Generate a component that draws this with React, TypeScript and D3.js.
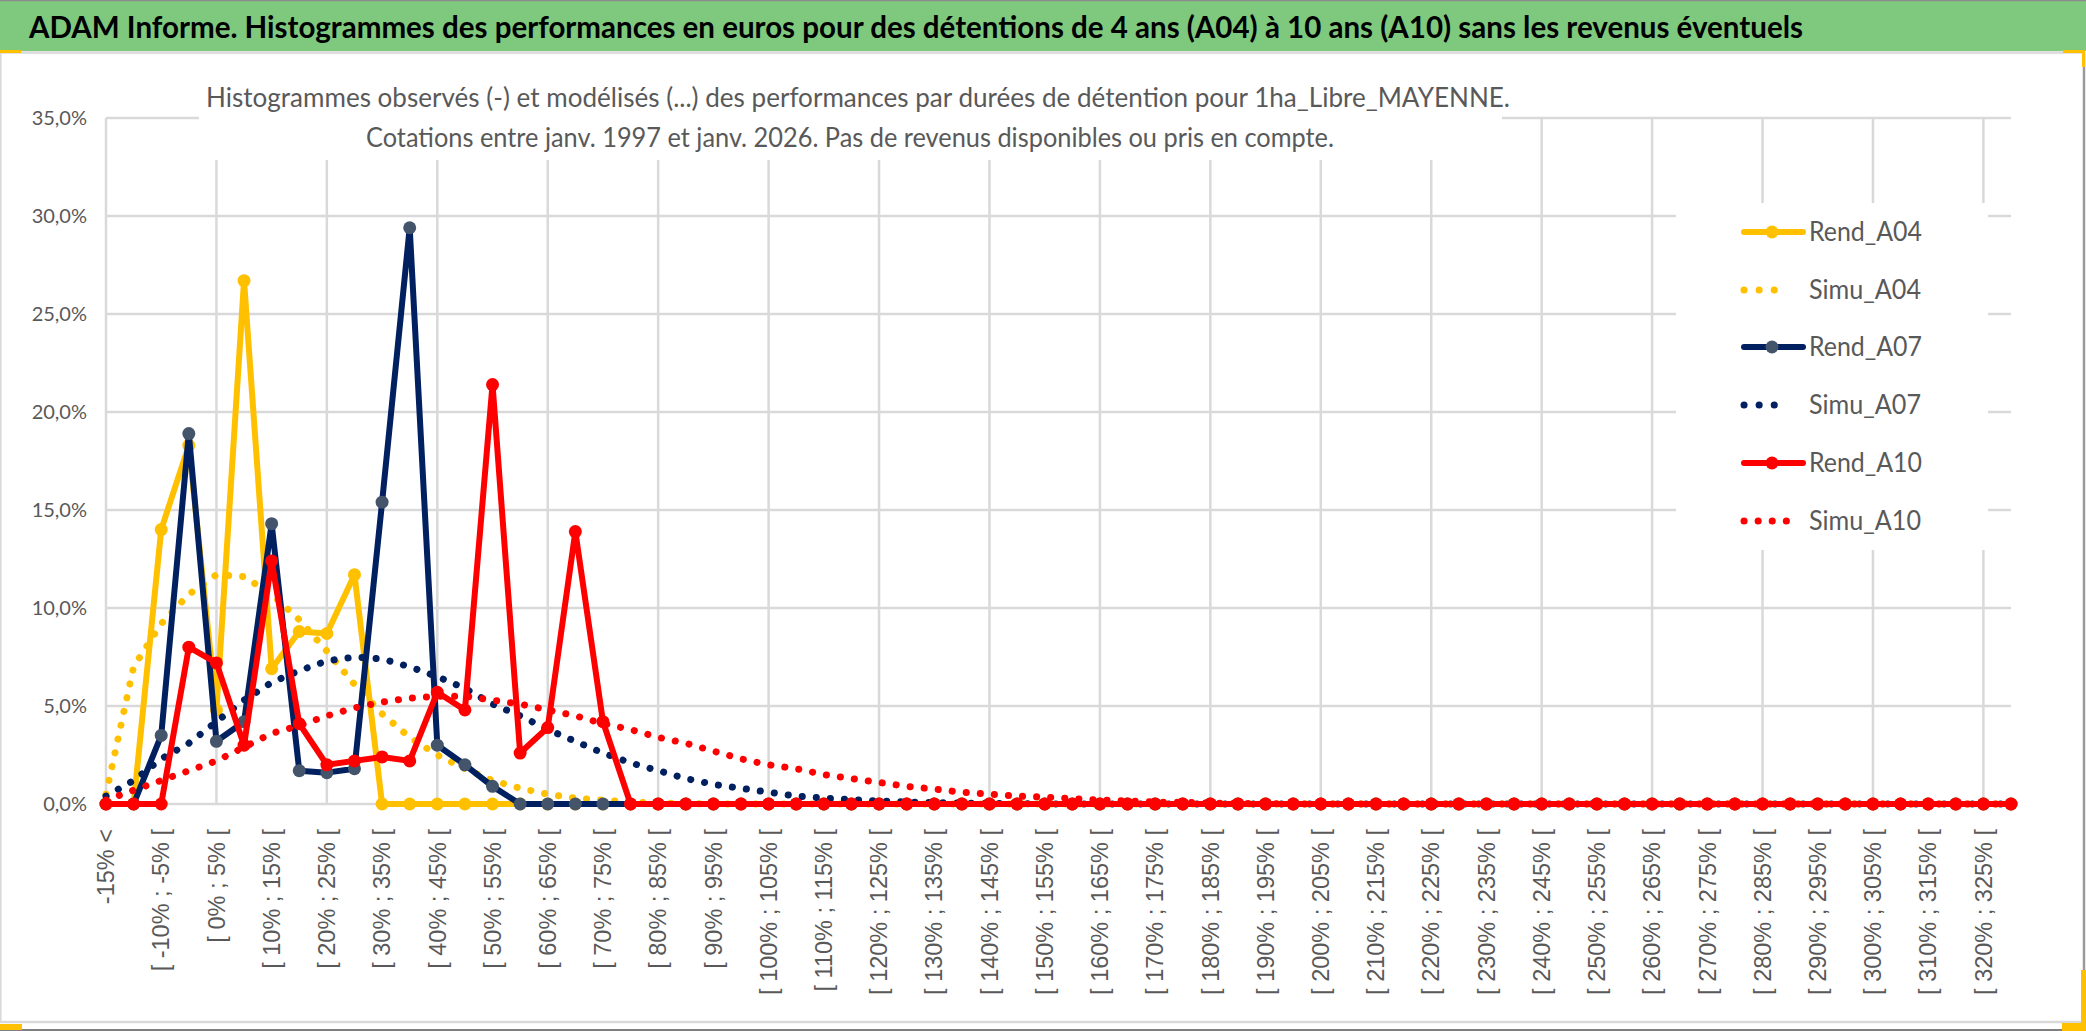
import { useEffect } from "react";
import * as d3 from "d3";

// categories (70 buckets, 5% wide)
const categories: string[] = [
  "-15% <", "[ -15% ; -10% [", "[ -10% ; -5% [", "[ -5% ; 0% [", "[ 0% ; 5% [",
  "[ 5% ; 10% [", "[ 10% ; 15% [", "[ 15% ; 20% [", "[ 20% ; 25% [", "[ 25% ; 30% [",
  "[ 30% ; 35% [", "[ 35% ; 40% [", "[ 40% ; 45% [", "[ 45% ; 50% [", "[ 50% ; 55% [",
  "[ 55% ; 60% [", "[ 60% ; 65% [", "[ 65% ; 70% [", "[ 70% ; 75% [", "[ 75% ; 80% [",
  "[ 80% ; 85% [", "[ 85% ; 90% [", "[ 90% ; 95% [", "[ 95% ; 100% [", "[ 100% ; 105% [",
  "[ 105% ; 110% [", "[ 110% ; 115% [", "[ 115% ; 120% [", "[ 120% ; 125% [", "[ 125% ; 130% [",
  "[ 130% ; 135% [", "[ 135% ; 140% [", "[ 140% ; 145% [", "[ 145% ; 150% [", "[ 150% ; 155% [",
  "[ 155% ; 160% [", "[ 160% ; 165% [", "[ 165% ; 170% [", "[ 170% ; 175% [", "[ 175% ; 180% [",
  "[ 180% ; 185% [", "[ 185% ; 190% [", "[ 190% ; 195% [", "[ 195% ; 200% [", "[ 200% ; 205% [",
  "[ 205% ; 210% [", "[ 210% ; 215% [", "[ 215% ; 220% [", "[ 220% ; 225% [", "[ 225% ; 230% [",
  "[ 230% ; 235% [", "[ 235% ; 240% [", "[ 240% ; 245% [", "[ 245% ; 250% [", "[ 250% ; 255% [",
  "[ 255% ; 260% [", "[ 260% ; 265% [", "[ 265% ; 270% [", "[ 270% ; 275% [", "[ 275% ; 280% [",
  "[ 280% ; 285% [", "[ 285% ; 290% [", "[ 290% ; 295% [", "[ 295% ; 300% [", "[ 300% ; 305% [",
  "[ 305% ; 310% [", "[ 310% ; 315% [", "[ 315% ; 320% [", "[ 320% ; 325% [", "[ 325% ; 330% [",
];

const yTicks = [0, 5, 10, 15, 20, 25, 30, 35];

// values in % (trailing buckets are zero)
const rendA04 = [
  0, 0, 14.0, 18.3, 4.8, 26.7, 6.9, 8.8, 8.7, 11.7,
  0, 0, 0, 0, 0, 0, 0, 0, 0, 0,
  0, 0, 0, 0, 0, 0, 0, 0, 0, 0,
  0, 0, 0, 0, 0, 0, 0, 0, 0, 0,
  0, 0, 0, 0, 0, 0, 0, 0, 0, 0,
  0, 0, 0, 0, 0, 0, 0, 0, 0, 0,
  0, 0, 0, 0, 0, 0, 0, 0, 0, 0,
];
const simuA04 = [
  0.5, 7.0, 9.2, 10.7, 11.7, 11.6, 10.7, 9.4, 7.8, 6.1,
  4.6, 3.4, 2.5, 1.8, 1.2, 0.8, 0.5, 0.3, 0.2, 0.1,
  0.05, 0.02, 0, 0, 0, 0, 0, 0, 0, 0,
  0, 0, 0, 0, 0, 0, 0, 0, 0, 0,
  0, 0, 0, 0, 0, 0, 0, 0, 0, 0,
  0, 0, 0, 0, 0, 0, 0, 0, 0, 0,
  0, 0, 0, 0, 0, 0, 0, 0, 0, 0,
];
const rendA07 = [
  0, 0, 3.5, 18.9, 3.2, 4.2, 14.3, 1.7, 1.6, 1.8,
  15.4, 29.4, 3.0, 2.0, 0.9, 0, 0, 0, 0, 0,
  0, 0, 0, 0, 0, 0, 0, 0, 0, 0,
  0, 0, 0, 0, 0, 0, 0, 0, 0, 0,
  0, 0, 0, 0, 0, 0, 0, 0, 0, 0,
  0, 0, 0, 0, 0, 0, 0, 0, 0, 0,
  0, 0, 0, 0, 0, 0, 0, 0, 0, 0,
];
const simuA07 = [
  0.4, 1.2, 2.3, 3.1, 4.2, 5.3, 6.2, 6.8, 7.3, 7.5,
  7.4, 7.0, 6.5, 5.9, 5.1, 4.5, 3.8, 3.2, 2.6, 2.1,
  1.7, 1.3, 1.0, 0.8, 0.6, 0.4, 0.3, 0.22, 0.15, 0.1,
  0.07, 0.05, 0.03, 0.02, 0.01, 0, 0, 0, 0, 0,
  0, 0, 0, 0, 0, 0, 0, 0, 0, 0,
  0, 0, 0, 0, 0, 0, 0, 0, 0, 0,
  0, 0, 0, 0, 0, 0, 0, 0, 0, 0,
];
const rendA10 = [
  0, 0, 0, 8.0, 7.2, 3.0, 12.4, 4.1, 2.0, 2.2,
  2.4, 2.2, 5.7, 4.8, 21.4, 2.6, 3.9, 13.9, 4.2, 0,
  0, 0, 0, 0, 0, 0, 0, 0, 0, 0,
  0, 0, 0, 0, 0, 0, 0, 0, 0, 0,
  0, 0, 0, 0, 0, 0, 0, 0, 0, 0,
  0, 0, 0, 0, 0, 0, 0, 0, 0, 0,
  0, 0, 0, 0, 0, 0, 0, 0, 0, 0,
];
const simuA10 = [
  0.2, 0.7, 1.2, 1.7, 2.2, 2.9, 3.6, 4.0, 4.5, 4.9,
  5.2, 5.4, 5.5, 5.5, 5.3, 5.1, 4.8, 4.5, 4.1, 3.8,
  3.4, 3.1, 2.7, 2.3, 2.0, 1.8, 1.5, 1.3, 1.1, 0.9,
  0.76, 0.6, 0.5, 0.4, 0.35, 0.28, 0.2, 0.15, 0.1, 0.08,
  0.05, 0.03, 0.02, 0.01, 0, 0, 0, 0, 0, 0,
  0, 0, 0, 0, 0, 0, 0, 0, 0, 0,
  0, 0, 0, 0, 0, 0, 0, 0, 0, 0,
];

const title =
  "ADAM Informe. Histogrammes des performances en euros pour des détentions de 4 ans (A04) à 10 ans (A10) sans les revenus éventuels";
const subtitle1 =
  "Histogrammes observés (-) et modélisés (...) des performances par durées de détention pour 1ha_Libre_MAYENNE.";
const subtitle2 =
  "Cotations entre janv. 1997 et janv. 2026. Pas de revenus disponibles ou pris en compte.";

interface Series {
  name: string;
  values: number[];
  color: string;
  marker?: string;
  dotted: boolean;
  legendGap: number;
}

const series: Series[] = [
  { name: "Rend_A04", values: rendA04, color: "#FFC000", marker: "#FFC000", dotted: false, legendGap: 15 },
  { name: "Simu_A04", values: simuA04, color: "#FFC000", dotted: true, legendGap: 15 },
  { name: "Rend_A07", values: rendA07, color: "#002060", marker: "#44546A", dotted: false, legendGap: 15 },
  { name: "Simu_A07", values: simuA07, color: "#002060", dotted: true, legendGap: 15 },
  { name: "Rend_A10", values: rendA10, color: "#FF0000", marker: "#FF0000", dotted: false, legendGap: 14 },
  { name: "Simu_A10", values: simuA10, color: "#FF0000", dotted: true, legendGap: 14 },
];

const W = 2086;
const H = 1031;
const plot = { left: 106, right: 2011, top: 118, bottom: 804 };
const gray = "#595959";
const grid = "#D9D9D9";
const sans = "Lato, 'Open Sans', sans-serif";

export default function App() {
  useEffect(() => {
    document.body.style.margin = "0";
  }, []);

  const x = d3.scalePoint<string>().domain(categories).range([plot.left, plot.right]).padding(0);
  const y = d3.scaleLinear().domain([0, 35]).range([plot.bottom, plot.top]);
  const lineGen = d3
    .line<number>()
    .x((_d, i) => x(categories[i]) as number)
    .y((d) => y(d));

  const vGrid = categories.filter((_c, i) => i % 4 === 0);
  const shownLabels = categories.filter((_c, i) => i % 2 === 0);

  const legendRows = [232, 290, 347, 405, 463, 521];

  return (
    <div style={{ position: "absolute", left: 0, top: 0 }}>
      <svg width={W} height={H} style={{ display: "block" }}>
        <rect x={0} y={0} width={W} height={H} fill="#ffffff" />

        {/* title band */}
        <rect x={0} y={0} width={W} height={51} fill="#7EC97E" />
        <line x1={0} x2={W} y1={0.5} y2={0.5} stroke="#8c8c8c" strokeWidth={1.5} />
        <line x1={0} x2={2083} y1={52.5} y2={52.5} stroke={grid} strokeWidth={2.5} />
        <text
          x={29}
          y={38}
          fontFamily={sans}
          fontWeight="bold"
          fontSize={30}
          fill="#000000"
          textLength={1774}
          lengthAdjust="spacingAndGlyphs"
        >
          {title}
        </text>

        {/* chart frame */}
        <line x1={0.8} x2={0.8} y1={52} y2={1022} stroke={grid} strokeWidth={1.6} />
        <line x1={2084} x2={2084} y1={52} y2={H} stroke="#9a9a9a" strokeWidth={2.5} />
        <line x1={0} x2={2083} y1={1022} y2={1022} stroke={grid} strokeWidth={2.5} />
        <line x1={0} x2={W} y1={1030} y2={1030} stroke="#7f7f7f" strokeWidth={2} />
        <rect x={0} y={50} width={21} height={3} fill="#FFC000" />
        <rect x={2063} y={50} width={21} height={3} fill="#FFC000" />
        <rect x={2082} y={50} width={3} height={17} fill="#FFC000" />
        <rect x={0} y={1024} width={22} height={6} fill="#FFC000" />
        <rect x={2062} y={1023} width={24} height={8} fill="#FFC000" />
        <rect x={2081} y={970} width={5} height={61} fill="#FFC000" />

        {/* gridlines */}
        <g stroke={grid} strokeWidth={2.5}>
          {yTicks.map((t) => (
            <line key={`h${t}`} x1={plot.left} x2={plot.right} y1={y(t)} y2={y(t)} />
          ))}
          {vGrid.map((c) => (
            <line key={`v${c}`} x1={x(c)} x2={x(c)} y1={plot.top} y2={plot.bottom} />
          ))}
        </g>

        {/* chart title and legend backgrounds */}
        <rect x={199} y={70} width={1303} height={90} fill="#ffffff" />
        <rect x={1676} y={203} width={312} height={347} fill="#ffffff" />

        <text x={206} y={107} fontFamily={sans} fontSize={27} fill={gray} textLength={1304} lengthAdjust="spacingAndGlyphs">
          {subtitle1}
        </text>
        <text x={366} y={147} fontFamily={sans} fontSize={27} fill={gray} textLength={968} lengthAdjust="spacingAndGlyphs">
          {subtitle2}
        </text>

        {/* y tick labels */}
        {yTicks.map((t) => (
          <text
            key={`yt${t}`}
            x={87}
            y={y(t)}
            dy="0.35em"
            textAnchor="end"
            fontFamily={sans}
            fontSize={20}
            fill={gray}
          >
            {`${d3.format(".1f")(t).replace(".", ",")}%`}
          </text>
        ))}

        {/* x tick labels */}
        {shownLabels.map((c) => (
          <text
            key={`xt${c}`}
            transform={`translate(${x(c)},829) rotate(-90)`}
            dy="0.35em"
            textAnchor="end"
            fontFamily="'Liberation Sans', Arial, sans-serif"
            fontSize={23.5}
            fill={gray}
          >
            {c}
          </text>
        ))}

        {/* series */}
        {series.map((s) => (
          <g key={s.name}>
            <path
              d={lineGen(s.values) || ""}
              fill="none"
              stroke={s.color}
              strokeWidth={s.dotted ? 7 : 6}
              strokeLinejoin="round"
              strokeLinecap="round"
              strokeDasharray={s.dotted ? "0.1 14" : undefined}
            />
            {s.marker &&
              s.values.map((v, i) => (
                <circle key={i} cx={x(categories[i])} cy={y(v)} r={6.5} fill={s.marker} />
              ))}
          </g>
        ))}

        {/* legend */}
        {series.map((s, i) => {
          const ly = legendRows[i];
          const x2 = s.dotted ? (s.legendGap === 14 ? 1800 : 1789) : 1803;
          return (
            <g key={`lg${s.name}`}>
              <line
                x1={1744}
                x2={x2}
                y1={ly}
                y2={ly}
                stroke={s.color}
                strokeWidth={s.dotted ? 7 : 6}
                strokeLinecap="round"
                strokeDasharray={s.dotted ? `0.1 ${s.legendGap}` : undefined}
              />
              {s.marker && <circle cx={1772} cy={ly} r={6.5} fill={s.marker} />}
              <text
                x={1809}
                y={ly}
                dy="0.35em"
                fontFamily={sans}
                fontSize={27}
                fill={gray}
                textLength={s.name.startsWith("Rend") ? 113 : 112}
                lengthAdjust="spacingAndGlyphs"
              >
                {s.name}
              </text>
            </g>
          );
        })}
      </svg>
    </div>
  );
}
